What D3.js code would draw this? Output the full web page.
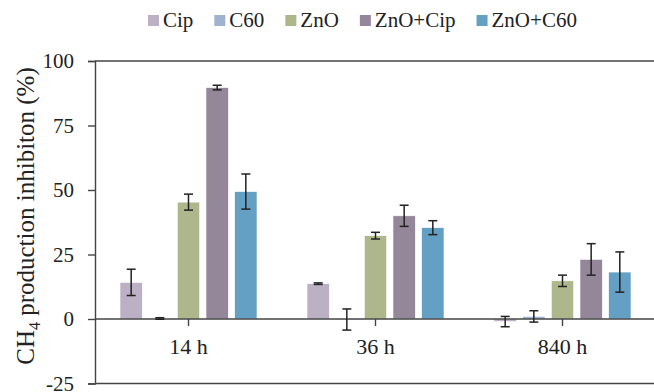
<!DOCTYPE html>
<html>
<head>
<meta charset="utf-8">
<script src="https://cdn.jsdelivr.net/npm/d3@7"></script>
<style>
  body { margin: 0; background: #fff; }
  text { font-family: "Liberation Serif", "Times New Roman", serif; fill: #222; }
</style>
</head>
<body>
<script>
// categories and series
var times = ["14 h", "36 h", "840 h"];
var treatments = ["Cip", "C60", "ZnO", "ZnO+Cip", "ZnO+C60"];
var colors = ["#bcb1c4", "#9fb2d0", "#adb78b", "#95879a", "#64a0c3"];

// mean inhibition (%) per treatment, one value per time
var cipMean    = [14.2, 13.7, -1.0];
var c60Mean    = [0.2, -0.2, 1.0];
var znoMean    = [45.3, 32.3, 14.8];
var znoCipMean = [89.7, 40.0, 23.1];
var znoC60Mean = [49.4, 35.4, 18.2];

// error bars (+/-)
var cipErr    = [5.1, 0.3, 2.0];
var c60Err    = [0.3, 4.1, 2.2];
var znoErr    = [3.1, 1.3, 2.2];
var znoCipErr = [0.9, 4.1, 6.1];
var znoC60Err = [6.8, 2.7, 7.8];

var yTicks = [-25, 0, 25, 50, 75, 100];

var means = [cipMean, c60Mean, znoMean, znoCipMean, znoC60Mean];
var errs = [cipErr, c60Err, znoErr, znoCipErr, znoC60Err];

var svgWidth = 654, svgHeight = 392;
var plotLeft = 95, plotRight = 656, plotTop = 61, plotBottom = 383.5;
var axisColor = "#444";
var serif = "'Liberation Serif', 'Times New Roman', serif";

var svg = d3.select("body").append("svg")
  .attr("width", svgWidth).attr("height", svgHeight);

var x0 = d3.scaleBand().domain(times).range([plotLeft, plotRight]);
var x1 = d3.scaleBand().domain(treatments).range([25, 162]).paddingInner(0.22);
var y = d3.scaleLinear().domain([-25, 100]).range([plotBottom, plotTop]);

// flatten into rows
var rows = [];
times.forEach(function(t, i) {
  treatments.forEach(function(s, j) {
    rows.push({ time: t, series: s, color: colors[j], v: means[j][i], e: errs[j][i] });
  });
});

// y axis
var yAxis = svg.append("g")
  .attr("transform", "translate(" + plotLeft + ",0)")
  .call(d3.axisLeft(y).tickValues(yTicks).tickFormat(function(d) { return String(d); })
    .tickSize(7).tickPadding(14));
yAxis.select(".domain").attr("stroke", axisColor).attr("stroke-width", 1.4);
yAxis.selectAll(".tick line").attr("stroke", axisColor).attr("stroke-width", 1.4);
yAxis.selectAll(".tick text").attr("font-size", "21px")
  .style("font-family", serif).attr("fill", "#222");

// top and bottom border lines
[100, -25].forEach(function(v) {
  svg.append("line")
    .attr("x1", plotLeft).attr("x2", svgWidth)
    .attr("y1", y(v)).attr("y2", y(v))
    .attr("stroke", axisColor).attr("stroke-width", 1.4);
});

// bars
svg.selectAll("rect.bar").data(rows).enter()
  .append("rect").attr("class", "bar")
  .attr("x", function(d) { return x0(d.time) + x1(d.series); })
  .attr("width", x1.bandwidth())
  .attr("y", function(d) { return y(Math.max(0, d.v)); })
  .attr("height", function(d) { return Math.abs(y(d.v) - y(0)); })
  .attr("fill", function(d) { return d.color; })
  .attr("stroke", "#fff").attr("stroke-width", 0.6);

// x axis at zero
var xAxis = svg.append("g")
  .attr("transform", "translate(0," + y(0) + ")")
  .call(d3.axisBottom(x0).tickSize(7).tickSizeOuter(0).tickPadding(12));
xAxis.select(".domain").attr("stroke", axisColor).attr("stroke-width", 1.4)
  .attr("d", "M" + plotLeft + ",0H" + svgWidth);
xAxis.selectAll(".tick line").attr("stroke", axisColor).attr("stroke-width", 1.4);
xAxis.selectAll(".tick text").attr("font-size", "22px")
  .style("font-family", serif).attr("fill", "#222");

// error bars
var eb = svg.selectAll("g.err").data(rows).enter().append("g").attr("class", "err")
  .attr("stroke", "#222").attr("stroke-width", 1.5);
function cx(d) { return x0(d.time) + x1(d.series) + x1.bandwidth() / 2; }
eb.append("line")
  .attr("x1", cx).attr("x2", cx)
  .attr("y1", function(d) { return y(d.v + d.e); })
  .attr("y2", function(d) { return y(d.v - d.e); });
eb.append("line")
  .attr("x1", function(d) { return cx(d) - 4.5; }).attr("x2", function(d) { return cx(d) + 4.5; })
  .attr("y1", function(d) { return y(d.v + d.e); }).attr("y2", function(d) { return y(d.v + d.e); });
eb.append("line")
  .attr("x1", function(d) { return cx(d) - 4.5; }).attr("x2", function(d) { return cx(d) + 4.5; })
  .attr("y1", function(d) { return y(d.v - d.e); }).attr("y2", function(d) { return y(d.v - d.e); });

// y title
var yt = svg.append("text")
  .attr("transform", "translate(34,216) rotate(-90)")
  .attr("text-anchor", "middle")
  .attr("font-size", "25px");
yt.append("tspan").text("CH");
yt.append("tspan").text("4").attr("font-size", "16px").attr("dy", 6);
yt.append("tspan").text(" production inhibiton (%)").attr("dy", -6);

// legend
var lx = 148;
treatments.forEach(function(s, i) {
  svg.append("rect")
    .attr("x", lx).attr("y", 15).attr("width", 11).attr("height", 11)
    .attr("fill", colors[i]);
  var t = svg.append("text")
    .attr("x", lx + 15).attr("y", 27)
    .attr("font-size", "21px")
    .text(s);
  lx += 15 + t.node().getComputedTextLength() + 21;
});
</script>
</body>
</html>
